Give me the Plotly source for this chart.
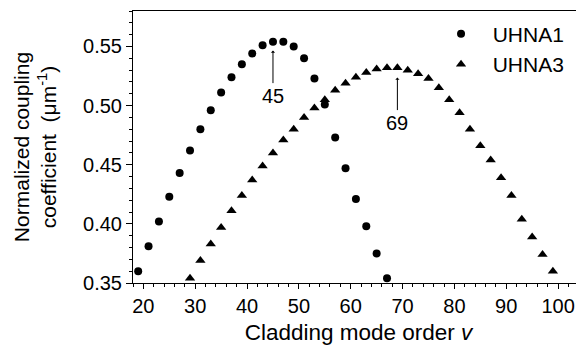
import plotly.graph_objects as go

v1 = list(range(19, 68, 2))
k1 = [0.360, 0.381, 0.402, 0.423, 0.443, 0.462, 0.480, 0.496, 0.511, 0.524,
      0.535, 0.544, 0.551, 0.554, 0.554, 0.550, 0.540, 0.523, 0.501, 0.473,
      0.447, 0.421, 0.398, 0.375, 0.354]
v3 = list(range(29, 100, 2))
k3 = [0.354, 0.369, 0.383, 0.397, 0.411, 0.424, 0.437, 0.449, 0.460, 0.471,
      0.480, 0.490, 0.498, 0.505, 0.513, 0.519, 0.524, 0.528, 0.531, 0.532,
      0.532, 0.530, 0.527, 0.523, 0.515, 0.505, 0.494, 0.480, 0.466, 0.454,
      0.439, 0.424, 0.404, 0.389, 0.374, 0.360]
peaks = [45, 69]
peak_heads = [0.5465, 0.5237]

FONT = "Liberation Sans, Arial, Helvetica, sans-serif"

fig = go.Figure()
fig.add_trace(go.Scatter(x=v1, y=k1, mode="markers", name="\u00a0\u00a0UHNA1",
                         marker=dict(symbol="circle", size=8, color="black")))
fig.add_trace(go.Scatter(x=v3, y=k3, mode="markers", name="\u00a0\u00a0UHNA3",
                         marker=dict(symbol="triangle-up", size=9, color="black")))

for p, h in zip(peaks, peak_heads):
    fig.add_annotation(x=p, y=h, text=str(p), showarrow=True, ax=0, ay=45,
                       arrowhead=1, arrowsize=0.7, arrowwidth=1, arrowcolor="black",
                       font=dict(size=20, color="black", family=FONT))

# the page body has an 8px margin; size the figure so the plot lands where the reference has it
fig.update_layout(
    width=576, height=344,
    margin=dict(l=125, r=0, t=3, b=69),
    paper_bgcolor="white", plot_bgcolor="white",
    font=dict(family=FONT, color="black", size=20),
    showlegend=True,
    legend=dict(x=0.683, y=0.99, xanchor="left", yanchor="top",
                font=dict(size=21), bgcolor="rgba(0,0,0,0)",
                itemsizing="trace", tracegroupgap=0),
)
fig.update_xaxes(range=[18, 105], showgrid=False, zeroline=False,
                 showline=True, linecolor="black", linewidth=1, mirror=True,
                 ticks="outside", ticklen=5, tickwidth=1, tickcolor="black",
                 dtick=10, tick0=0,
                 minor=dict(dtick=2, ticks="outside", ticklen=3, tickcolor="black"),
                 tickfont=dict(size=20),
                 title=dict(text="Cladding mode order <i>v</i>", font=dict(size=22.5), standoff=8))
fig.update_yaxes(range=[0.35, 0.58], showgrid=False, zeroline=False,
                 showline=True, linecolor="black", linewidth=1,
                 ticks="outside", ticklen=6, tickwidth=1, tickcolor="black",
                 dtick=0.05, tick0=0.35, tickformat=".2f",
                 minor=dict(dtick=0.01, ticks="outside", ticklen=3, tickcolor="black"),
                 tickfont=dict(size=20),
                 title=dict(text="Normalized coupling<br>coefficient  (\u03bcm<sup>-1</sup>)",
                            font=dict(size=21), standoff=20))

fig.write_html("out.html")
